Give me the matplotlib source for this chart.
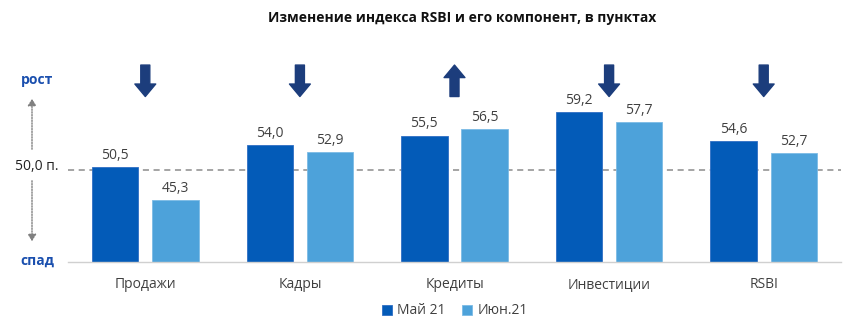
import numpy as np
import matplotlib.pyplot as plt

plt.rcParams['font.family'] = ['Open Sans', 'DejaVu Sans']

categories = ['Продажи', 'Кадры', 'Кредиты', 'Инвестиции', 'RSBI']
may_vals = [50.5, 54.0, 55.5, 59.2, 54.6]
jun_vals = [45.3, 52.9, 56.5, 57.7, 52.7]
series_names = ['Май 21', 'Июн.21']
direction = ['down', 'down', 'up', 'down', 'down']  # стрелки над группами

c_may = '#035BB8'
c_jun = '#4DA2DA'
navy = '#1C3D7C'
txt = '#404040'

fig = plt.figure(figsize=(8.47, 3.29), dpi=100)
ax = fig.add_axes([68 / 847, 1 - 262 / 329, 773 / 847, 207 / 329])

x = np.arange(len(categories))
w = 0.30
off = 0.195
b1 = ax.bar(x - off, may_vals, w, bottom=0, color=c_may, edgecolor='#2f6fc4', linewidth=0.6, label=series_names[0])
b2 = ax.bar(x + off, jun_vals, w, bottom=0, color=c_jun, edgecolor='#7cbbe6', linewidth=0.6, label=series_names[1])

ax.set_ylim(35.4, 68.3)
ax.set_xlim(-0.5, 4.5)

for bars, vals in ((b1, may_vals), (b2, jun_vals)):
    for r, v in zip(bars, vals):
        ax.annotate(f'{v:.1f}'.replace('.', ','), (r.get_x() + r.get_width() / 2, v),
                    xytext=(0, 3), textcoords='offset points', ha='center', va='bottom',
                    fontsize=10, color=txt)

# линия 50 пунктов
ax.axhline(50, color='#8c8c8c', linestyle=(0, (4, 3)), linewidth=1.1, zorder=0.5)

# стрелки
for i, d in enumerate(direction):
    top, bot = 66.7, 61.7
    if d == 'down':
        xy, xyt = (i, bot), (i, top)
    else:
        xy, xyt = (i, top), (i, bot)
    ax.annotate('', xy=xy, xytext=xyt,
                arrowprops=dict(arrowstyle='simple,head_length=0.9,head_width=1.5,tail_width=0.65',
                                mutation_scale=10, color=navy, shrinkA=0, shrinkB=0))

ax.set_xticks(x)
ax.set_xticklabels(categories, fontsize=10, color=txt)
ax.tick_params(axis='x', length=0, pad=11)
ax.set_yticks([])
for s in ['top', 'right', 'left']:
    ax.spines[s].set_visible(False)
ax.spines['bottom'].set_color('#d0d0d0')
ax.spines['bottom'].set_linewidth(1)

# левая шкала
fig.text(37 / 847, 1 - 80 / 329, 'рост', ha='center', va='center', fontsize=10,
         fontweight='bold', color='#1a4fae')
fig.text(37 / 847, 1 - 261 / 329, 'спад', ha='center', va='center', fontsize=10,
         fontweight='bold', color='#1a4fae')
fig.text(37 / 847, 1 - 166 / 329, '50,0 п.', ha='center', va='center', fontsize=10, color='#222222')
fig.patches.append(plt.matplotlib.patches.FancyArrowPatch(
    (32 / 847, 1 - 152 / 329), (32 / 847, 1 - 96 / 329), transform=fig.transFigure,
    arrowstyle='-|>,head_length=4,head_width=2.5', linestyle=(0, (1, 1)), color='#808080',
    linewidth=1, mutation_scale=1))
fig.patches.append(plt.matplotlib.patches.FancyArrowPatch(
    (32 / 847, 1 - 178 / 329), (32 / 847, 1 - 244 / 329), transform=fig.transFigure,
    arrowstyle='-|>,head_length=4,head_width=2.5', linestyle=(0, (1, 1)), color='#808080',
    linewidth=1, mutation_scale=1))

fig.text(462 / 847, 1 - 18 / 329, 'Изменение индекса RSBI и его компонент, в пунктах',
         ha='center', va='center', fontsize=10, fontweight='bold', color='#111111')

fig.legend(handles=[b1, b2], loc='center', bbox_to_anchor=(455 / 847, 1 - 311 / 329),
           ncol=2, frameon=False, fontsize=10, handlelength=0.7, handleheight=0.7,
           columnspacing=1.2, handletextpad=0.4, labelcolor=txt)

fig.savefig('out.png', dpi=100)
